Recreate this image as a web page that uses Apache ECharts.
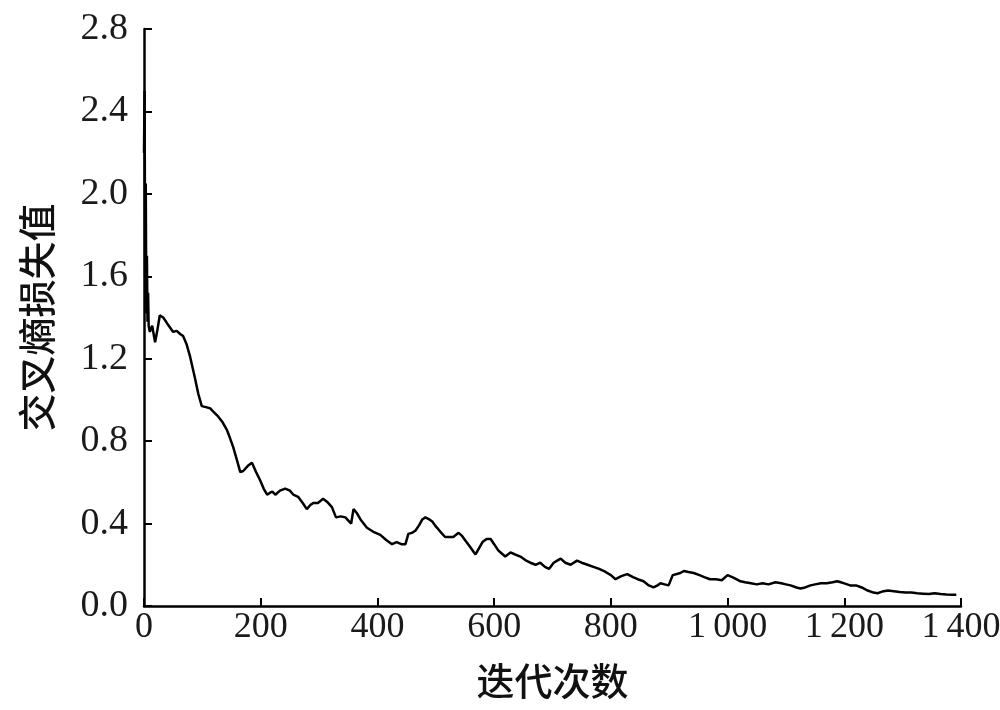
<!DOCTYPE html>
<html>
<head>
<meta charset="utf-8">
<script src="https://cdn.jsdelivr.net/npm/echarts@6/dist/echarts.min.js"></script>
<style>
html,body{margin:0;padding:0;background:#fff;}
#chart{width:1000px;height:710px;}
</style>
</head>
<body>
<div id="chart"></div>
<script>
const iterations = [0,1,2,3,4,5,6,7,8,10,14,19,23,27,33,40,50,56,62,67,73,79,87,93,99,106,113,120,127,135,142,148,153,159,165,170,173,178,185,192,199,205,211,216,220,225,233,242,250,256,264,272,279,285,290,298,307,314,322,329,337,345,355,359,365,371,382,393,405,415,425,433,441,448,453,459,465,471,477,482,489,494,499,508,516,523,530,539,545,550,558,568,574,580,587,594,600,607,613,619,628,636,645,655,662,671,679,687,694,702,708,714,722,731,742,750,760,770,780,791,800,808,818,828,838,846,856,865,873,880,885,892,899,906,913,919,925,933,942,952,960,970,980,990,1000,1008,1015,1022,1030,1040,1050,1060,1070,1082,1092,1100,1108,1118,1125,1133,1142,1150,1160,1170,1180,1188,1194,1200,1210,1220,1230,1240,1250,1257,1265,1275,1285,1295,1305,1315,1325,1335,1345,1355,1365,1375,1385,1392];
const loss = [2.20,2.50,1.60,2.05,1.42,1.70,1.38,1.52,1.36,1.33,1.36,1.28,1.34,1.41,1.40,1.37,1.33,1.335,1.32,1.31,1.27,1.21,1.11,1.03,0.97,0.965,0.96,0.94,0.92,0.89,0.855,0.81,0.77,0.71,0.65,0.655,0.66,0.68,0.695,0.65,0.61,0.57,0.54,0.55,0.555,0.54,0.56,0.57,0.56,0.54,0.53,0.50,0.47,0.49,0.50,0.50,0.52,0.505,0.48,0.43,0.435,0.43,0.40,0.47,0.45,0.42,0.38,0.36,0.345,0.32,0.30,0.31,0.30,0.30,0.35,0.355,0.365,0.39,0.42,0.43,0.42,0.41,0.39,0.36,0.335,0.335,0.335,0.355,0.34,0.32,0.29,0.25,0.28,0.31,0.325,0.325,0.30,0.27,0.255,0.24,0.26,0.25,0.24,0.22,0.21,0.20,0.21,0.19,0.18,0.21,0.22,0.23,0.21,0.20,0.22,0.21,0.20,0.19,0.18,0.165,0.15,0.13,0.145,0.155,0.14,0.13,0.12,0.10,0.09,0.10,0.11,0.105,0.10,0.15,0.155,0.16,0.17,0.165,0.16,0.15,0.14,0.13,0.13,0.125,0.15,0.14,0.13,0.12,0.115,0.11,0.105,0.11,0.105,0.115,0.11,0.105,0.10,0.09,0.085,0.09,0.10,0.105,0.11,0.11,0.115,0.12,0.115,0.11,0.10,0.10,0.09,0.075,0.065,0.062,0.07,0.075,0.072,0.068,0.065,0.065,0.062,0.06,0.058,0.062,0.058,0.056,0.055,0.055];
const xTicks = [0,200,400,600,800,1000,1200,1400];
const yTicks = [0.0,0.4,0.8,1.2,1.6,2.0,2.4,2.8];
const xName = '迭代次数';
const yName = '交叉熵损失值';

const seriesData = iterations.map((v,i)=>[v, loss[i]]);
const serif = '"Liberation Serif","DejaVu Serif",serif';
const cjk = '"Noto Sans CJK SC","Noto Sans CJK JP",sans-serif';

const chart = echarts.init(document.getElementById('chart'), null, {renderer:'canvas'});
chart.setOption({
  animation:false,
  backgroundColor:'#fff',
  grid:{left:144,right:39,top:29,bottom:104,containLabel:false,outerBoundsMode:'none'},
  xAxis:{
    type:'value',
    min:xTicks[0], max:xTicks[xTicks.length-1], interval:200,
    name:xName, nameLocation:'middle', nameGap:56,
    nameTextStyle:{fontFamily:cjk,fontSize:38,fontWeight:500,color:'#111'},
    axisLine:{show:true,onZero:false,lineStyle:{color:'#000',width:2.5}},
    axisTick:{show:true,inside:true,length:8,lineStyle:{color:'#000',width:2}},
    axisLabel:{margin:4,fontFamily:serif,fontSize:36,color:'#1a1a1a',hideOverlap:false,
      formatter:v=>{const s=String(v);return s.length>3?s.slice(0,s.length-3)+'\u2009'+s.slice(-3):s;}},
    splitLine:{show:false}
  },
  yAxis:{
    type:'value',
    min:yTicks[0], max:yTicks[yTicks.length-1], interval:0.4,
    name:yName, nameLocation:'middle', nameGap:88, nameRotate:90,
    nameTextStyle:{fontFamily:cjk,fontSize:38,fontWeight:500,color:'#111'},
    axisLine:{show:true,lineStyle:{color:'#000',width:2.5}},
    axisTick:{show:true,inside:true,length:8,lineStyle:{color:'#000',width:2}},
    axisLabel:{margin:16,fontFamily:serif,fontSize:38,color:'#1a1a1a',formatter:v=>v.toFixed(1)},
    splitLine:{show:false}
  },
  series:[{
    type:'line',
    data:seriesData,
    showSymbol:false,
    smooth:false,
    lineStyle:{color:'#000',width:2.5},
    clip:true
  }]
});
</script>
</body>
</html>
